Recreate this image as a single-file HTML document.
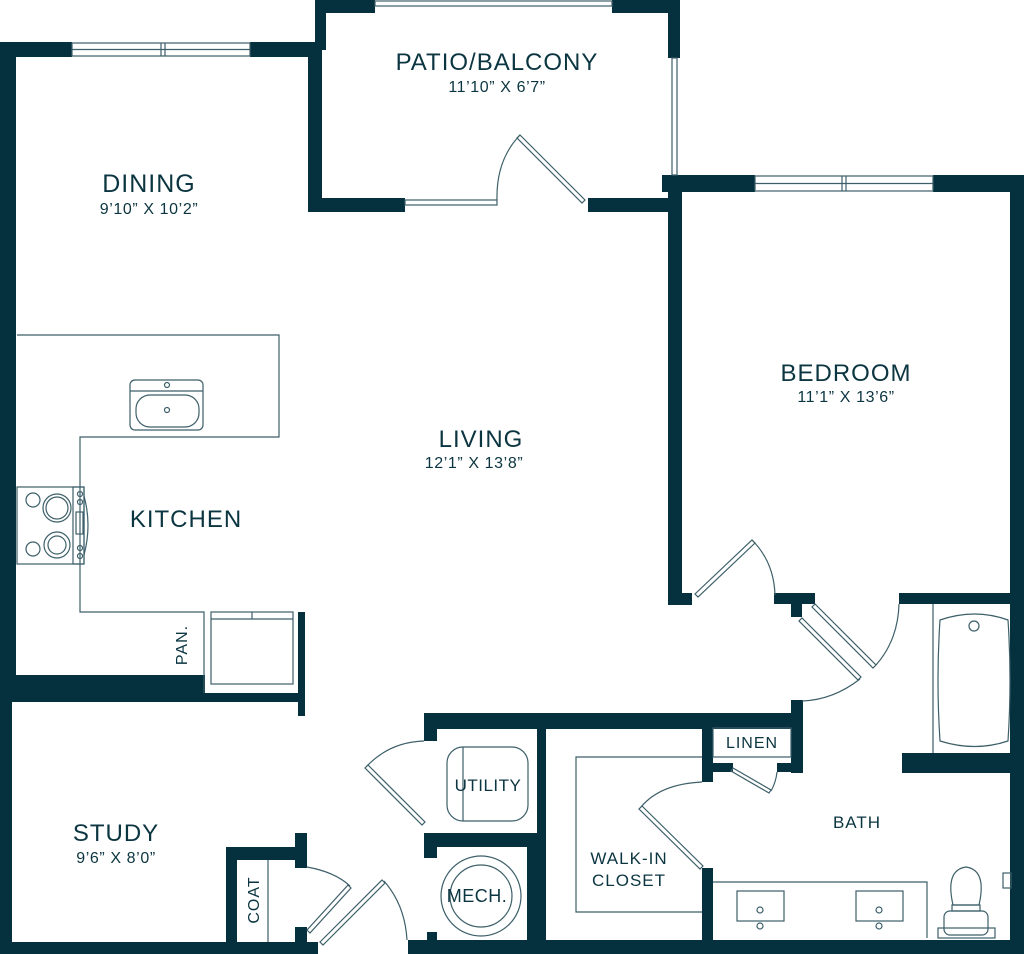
<!DOCTYPE html>
<html><head><meta charset="utf-8"><style>
html,body{margin:0;padding:0;background:#fff}
svg{display:block}
text{font-family:"Liberation Sans",sans-serif;fill:#0b3540}
</style></head><body>
<svg width="1024" height="954" viewBox="0 0 1024 954" xmlns="http://www.w3.org/2000/svg">
<g fill="#05303d">
<rect x="0" y="42" width="72" height="15"/>
<rect x="250" y="42" width="70" height="15"/>
<rect x="0" y="42" width="16" height="650"/>
<rect x="0" y="690" width="12" height="264"/>
<rect x="315" y="0" width="60" height="13"/>
<rect x="315" y="0" width="11" height="50"/>
<rect x="308" y="42" width="14" height="170"/>
<rect x="612" y="0" width="68" height="13"/>
<rect x="668" y="0" width="12" height="58"/>
<rect x="308" y="198" width="97" height="14"/>
<rect x="588" y="198" width="80" height="14"/>
<rect x="662" y="175" width="93" height="17"/>
<rect x="933" y="175" width="91" height="17"/>
<rect x="668" y="175" width="14" height="430"/>
<rect x="668" y="593" width="24" height="12"/>
<rect x="1010" y="175" width="14" height="779"/>
<rect x="774" y="593" width="41" height="11"/>
<rect x="791" y="593" width="11" height="24"/>
<rect x="899" y="593" width="115" height="11"/>
<rect x="902" y="753" width="112" height="20"/>
<rect x="0" y="675" width="205" height="27"/>
<rect x="205" y="693" width="96" height="9"/>
<rect x="298" y="612" width="7" height="104"/>
<rect x="0" y="942" width="318" height="12"/>
<rect x="226" y="847" width="11" height="105"/>
<rect x="226" y="847" width="81" height="13"/>
<rect x="295" y="833" width="12" height="35"/>
<rect x="295" y="927" width="12" height="17"/>
<rect x="408" y="940" width="616" height="14"/>
<rect x="424" y="713" width="379" height="16"/>
<rect x="424" y="713" width="13" height="28"/>
<rect x="537" y="713" width="9" height="230"/>
<rect x="527" y="833" width="19" height="110"/>
<rect x="424" y="833" width="113" height="14"/>
<rect x="424" y="833" width="13" height="25"/>
<rect x="427" y="932" width="10" height="10"/>
<rect x="791" y="700" width="12" height="73"/>
<rect x="702" y="713" width="11" height="69"/>
<rect x="702" y="763" width="31" height="9"/>
<rect x="777" y="763" width="26" height="9"/>
<rect x="702" y="868" width="11" height="76"/>
</g>
<g fill="none" stroke="#3d5f69" stroke-width="1.2">
<rect x="72" y="43" width="178" height="13"/><line x1="72" y1="49.5" x2="250" y2="49.5"/><line x1="161" y1="43" x2="161" y2="56"/><line x1="165" y1="43" x2="165" y2="56"/>
<rect x="755" y="176" width="178" height="15"/><line x1="755" y1="183.5" x2="933" y2="183.5"/><line x1="842" y1="176" x2="842" y2="191"/><line x1="846" y1="176" x2="846" y2="191"/>
<rect x="375" y="1" width="237" height="5"/>
<rect x="672" y="58" width="5" height="117"/>
<rect x="405" y="200" width="92" height="5"/>
<path d="M497 200 Q496 160 520 135"/><path d="M520 135 L585 200 L582 203 L517 138Z"/>
<path d="M752 540 Q774 562 775 595"/><path d="M695 594 L752 540 L755 543 L698 597Z"/>
<path d="M815 604 L876 665 L873 668 L812 607Z"/><path d="M876 665 Q898 640 899 604"/>
<path d="M802 618 L861 677 L858 680 L799 621Z"/><path d="M860 679 Q833 700 802 701"/>
<path d="M733 768 L771 790 L769 793 L731 771Z"/><path d="M771 791 Q776 782 777 772"/>
<rect x="713" y="728" width="78" height="29"/>
<path d="M642 806 L703 866 L700 869 L639 809Z"/><path d="M641 807 Q660 784 702 782"/>
<path d="M702 757 L576 757 L576 912 L702 912"/>
<path d="M368 765 L425 822 L422 825 L365 768Z"/><path d="M367 766 Q390 742 424 741"/>
<rect x="447" y="747" width="81" height="74" rx="16"/><line x1="463" y1="747" x2="463" y2="821"/>
<circle cx="481" cy="896" r="40"/><circle cx="481" cy="896" r="31"/>
<path d="M307 930 L348 885 L351 888 L310 933Z"/><path d="M307 867 Q335 872 350 886"/>
<path d="M320 942 L382 880 L385 883 L323 945Z"/><path d="M384 881 Q405 905 407 940"/>
<line x1="268" y1="860" x2="268" y2="942"/>
<path d="M17 335 L279 335 L279 437 L80 437 L80 612 L204 612 L204 693"/>
<rect x="211" y="612" width="82" height="72"/><line x1="211" y1="619" x2="293" y2="619"/><line x1="252" y1="612" x2="252" y2="619"/>
<rect x="130" y="380" width="73" height="50" rx="5"/><line x1="130" y1="391" x2="203" y2="391"/>
<rect x="136" y="395" width="63" height="32" rx="14"/><circle cx="167" cy="385" r="2.5"/><circle cx="167" cy="410" r="2.5"/>
<rect x="17" y="487" width="67" height="77"/><rect x="73" y="487" width="11" height="77"/>
<path d="M84 496 Q92 525 84 555"/><rect x="76" y="512" width="7" height="22"/>
<circle cx="57" cy="508" r="14"/><circle cx="57" cy="508" r="11"/><circle cx="57" cy="545" r="13"/><circle cx="57" cy="545" r="9"/>
<circle cx="33" cy="500" r="7"/><circle cx="33" cy="549" r="7"/>
<circle cx="80" cy="494" r="2.5"/><circle cx="80" cy="502" r="2.5"/><circle cx="80" cy="548" r="2.5"/><circle cx="80" cy="556" r="2.5"/>
<line x1="933" y1="604" x2="933" y2="753"/>
<path d="M940 620 Q975 608 1008 620 Q1012 680 1008 741 Q975 752 940 741 Q936 680 940 620Z"/><circle cx="974" cy="626" r="5"/>
<path d="M713 882 L927 882 L927 938"/>
<rect x="737" y="891" width="47" height="30"/><rect x="856" y="891" width="47" height="30"/>
<circle cx="760" cy="910" r="3"/><circle cx="760" cy="926" r="3"/><circle cx="879" cy="910" r="3"/><circle cx="879" cy="926" r="3"/>
<path d="M953 905 Q945 870 966 867 Q987 870 979 905Z"/><rect x="952" y="905" width="28" height="6"/>
<rect x="944" y="911" width="44" height="24" rx="6"/><rect x="938" y="928" width="57" height="10"/>
<rect x="1003" y="873" width="8" height="15"/>
</g>
<g text-anchor="middle">
<text x="497" y="70" font-size="24" letter-spacing="1">PATIO/BALCONY</text>
<text x="497" y="92" font-size="16" letter-spacing="0.6">11’10” X 6’7”</text>
<text x="149" y="192" font-size="25" letter-spacing="1">DINING</text>
<text x="149" y="214" font-size="16" letter-spacing="0.6">9’10” X 10’2”</text>
<text x="846" y="381" font-size="24" letter-spacing="1">BEDROOM</text>
<text x="846" y="402" font-size="16" letter-spacing="0.6">11’1” X 13’6”</text>
<text x="481" y="447" font-size="24" letter-spacing="1">LIVING</text>
<text x="474" y="468" font-size="16" letter-spacing="0.6">12’1” X 13’8”</text>
<text x="186" y="527" font-size="24" letter-spacing="1">KITCHEN</text>
<text x="116" y="841" font-size="24" letter-spacing="1">STUDY</text>
<text x="116" y="863" font-size="16" letter-spacing="0.6">9’6” X 8’0”</text>
<text x="857" y="828" font-size="17" letter-spacing="1">BATH</text>
<text x="488" y="791" font-size="17" letter-spacing="0.5">UTILITY</text>
<text x="477" y="902" font-size="18" letter-spacing="0.5">MECH.</text>
<text x="752" y="748" font-size="16" letter-spacing="1">LINEN</text>
<text x="629" y="864" font-size="17" letter-spacing="1">WALK-IN</text>
<text x="629" y="886" font-size="17" letter-spacing="1">CLOSET</text>
<text transform="translate(187,645) rotate(-90)" font-size="16" letter-spacing="1">PAN.</text>
<text transform="translate(259,900) rotate(-90)" font-size="16" letter-spacing="1">COAT</text>
</g>
</svg>
</body></html>
